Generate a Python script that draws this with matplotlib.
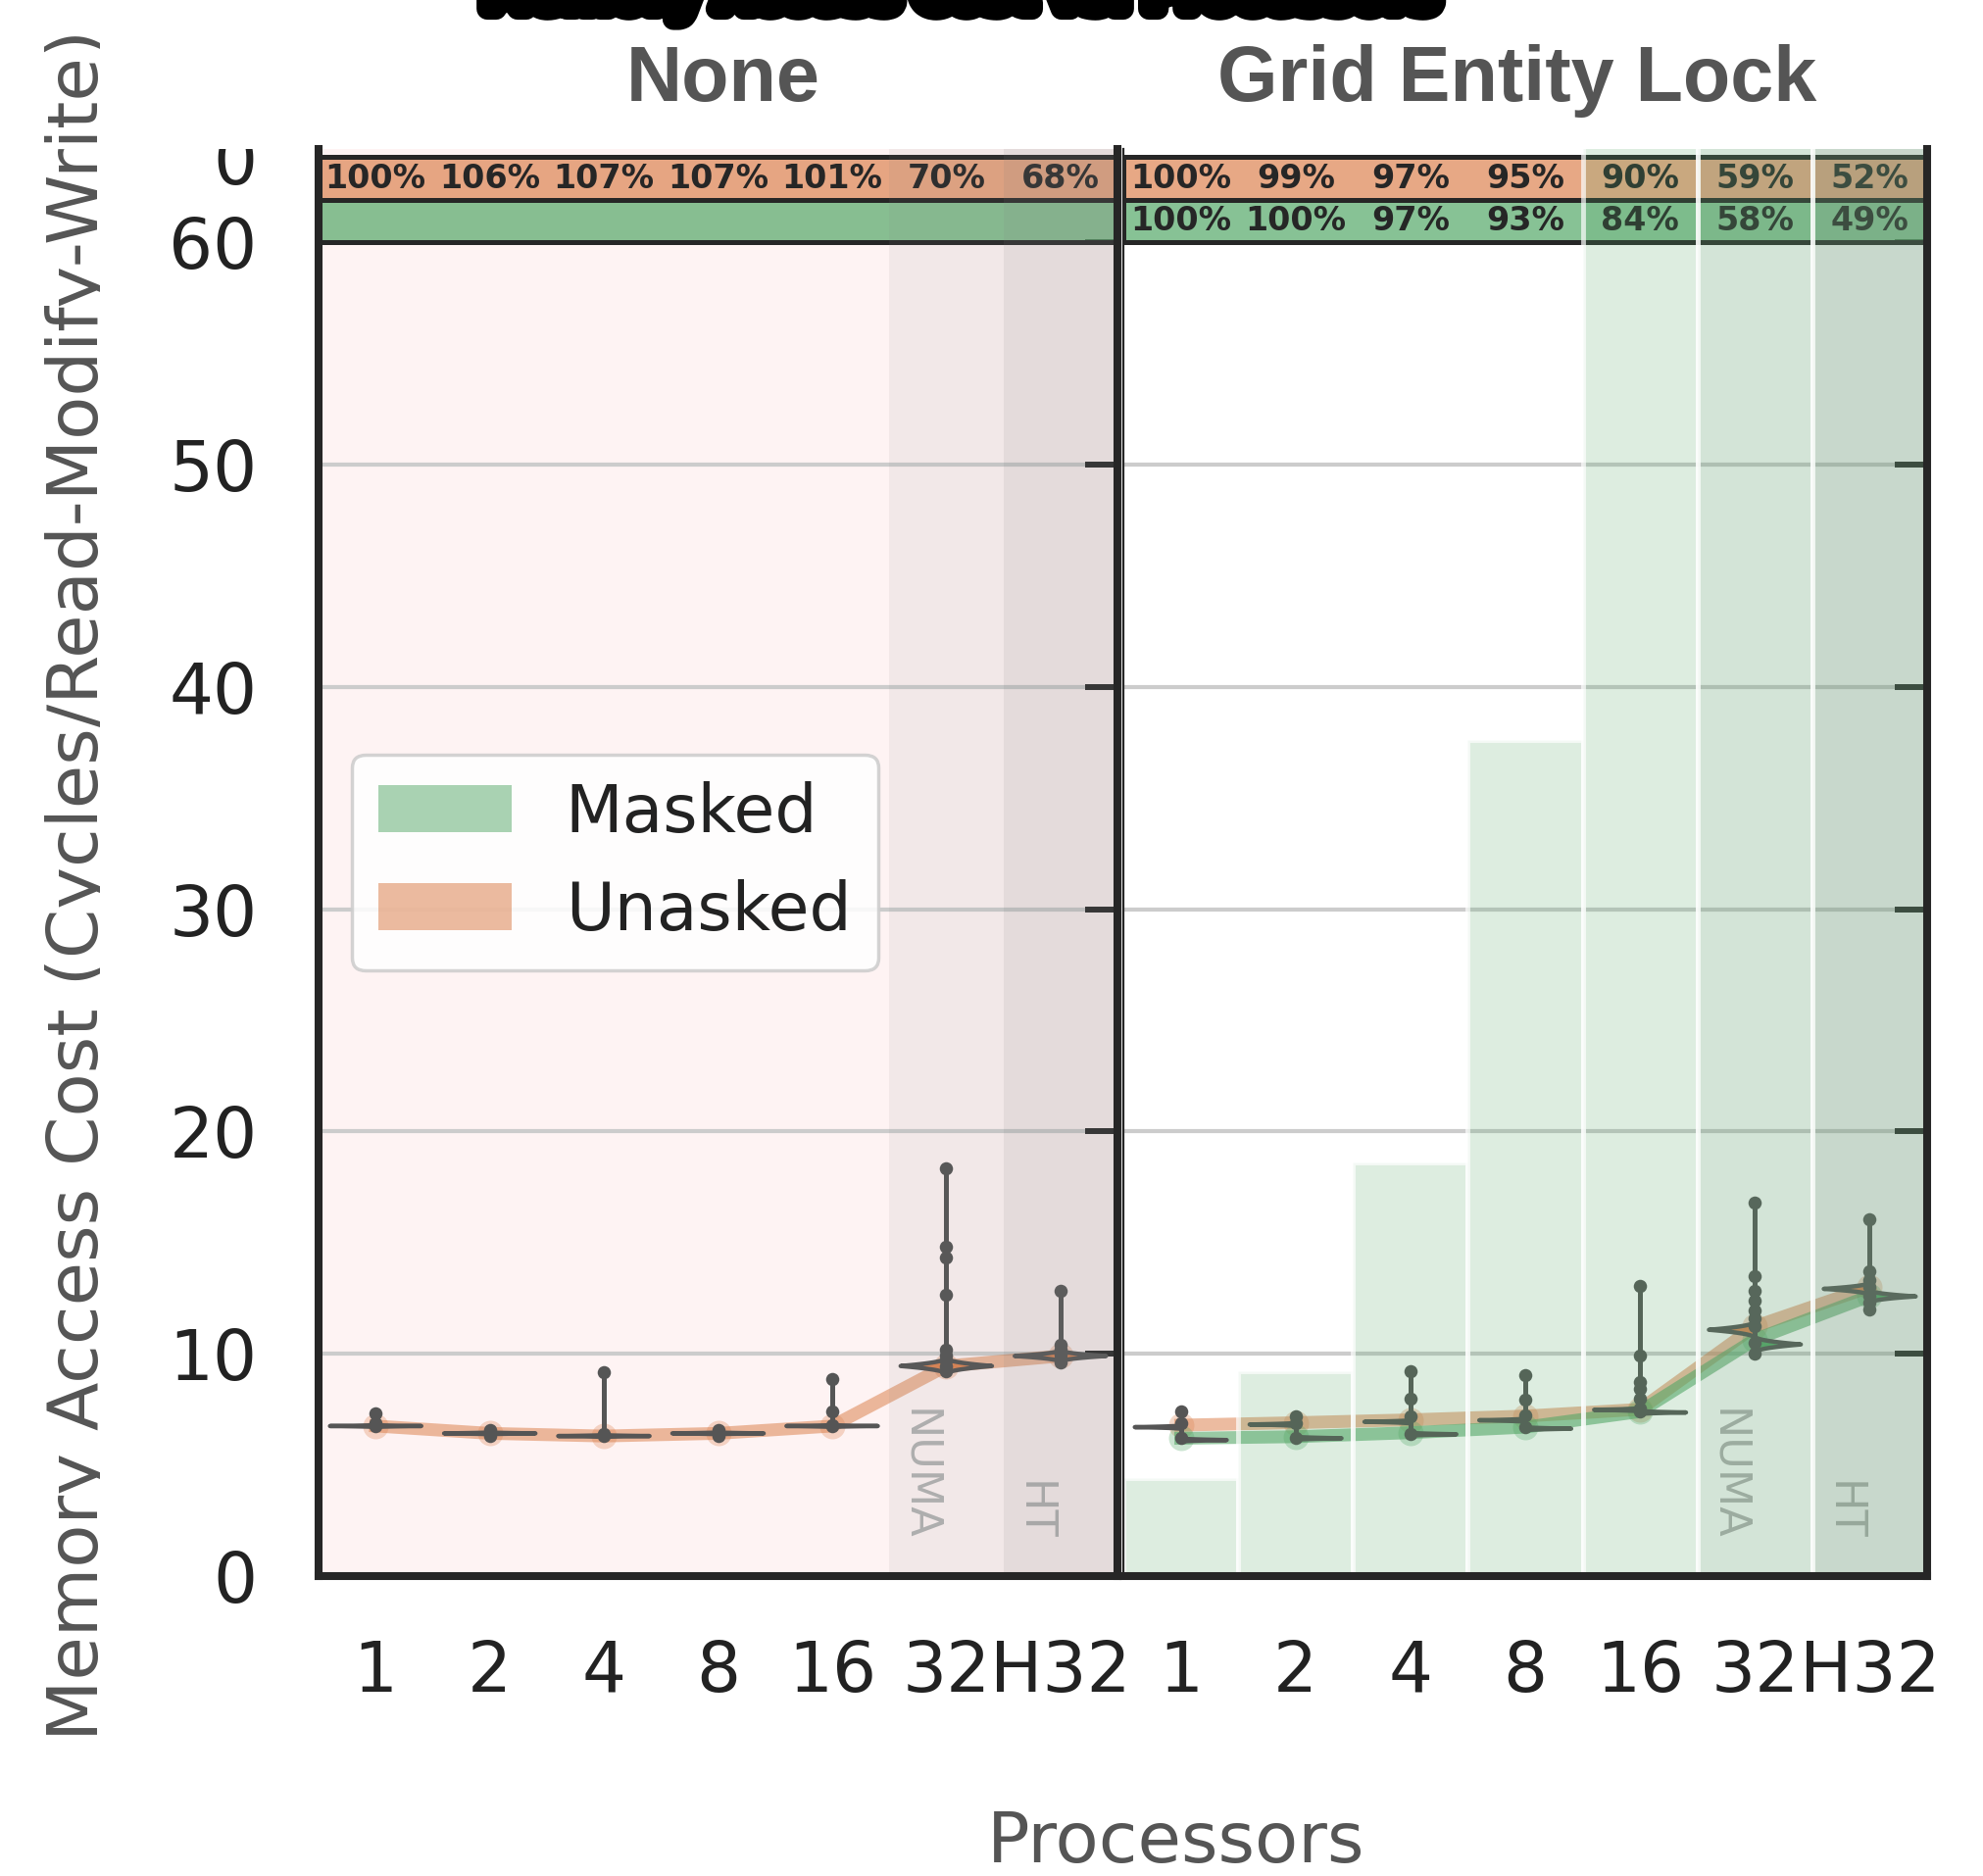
import numpy as np
import matplotlib
matplotlib.use("Agg")
import matplotlib.pyplot as plt
import matplotlib.patheffects as pe
from matplotlib.colors import to_rgb
from matplotlib.patches import Rectangle, Patch
from matplotlib.transforms import Bbox, TransformedBbox

# ---- data ----
cats = ["1", "2", "4", "8", "16", "32", "H32"]
yticks = [0, 10, 20, 30, 40, 50, 60]

# panel "None": only the unmasked run
none_unasked_line = [6.75, 6.42, 6.30, 6.42, 6.75, 9.45, 9.90]
none_unasked_mode = [6.75, 6.42, 6.30, 6.42, 6.75, 9.45, 9.90]
none_unasked_body = [0.05, 0.05, 0.05, 0.05, 0.05, 0.38, 0.28]
none_unasked_pts = [
    [6.75, 6.9, 7.33],
    [6.3, 6.42, 6.55],
    [6.3, 6.38, 9.17],
    [6.32, 6.42, 6.55],
    [6.75, 6.8, 7.4, 8.88],
    [9.2, 9.45, 9.7, 9.9, 10.2, 12.67, 14.32, 14.83, 18.36],
    [9.6, 9.8, 9.95, 10.2, 10.4, 12.85],
]
none_unasked_pct = [100, 106, 107, 107, 101, 70, 68]

# panel "Grid Entity Lock"
gel_unasked_line = [6.79, 6.90, 7.03, 7.20, 7.50, 11.23, 13.00]
gel_masked_line = [6.20, 6.27, 6.45, 6.70, 7.40, 10.64, 12.60]
gel_unasked_mode = [6.70, 6.82, 6.94, 7.01, 7.48, 11.08, 12.92]
gel_masked_mode = [6.12, 6.20, 6.38, 6.63, 7.36, 10.42, 12.58]
gel_unasked_body = [0.08, 0.08, 0.08, 0.08, 0.08, 0.38, 0.3]
gel_masked_body = [0.08, 0.08, 0.08, 0.08, 0.08, 0.38, 0.3]
gel_unasked_pts = [
    [6.9, 7.4],
    [6.9, 7.19],
    [7.2, 8.0, 9.2],
    [7.25, 7.93, 9.05],
    [7.55, 8.0, 8.4, 8.73, 9.94, 13.07],
    [11.23, 11.6, 11.96, 12.41, 12.85, 13.5, 16.81],
    [13.0, 13.3, 13.73, 16.04],
]
gel_masked_pts = [
    [6.2],
    [6.22],
    [6.4],
    [6.7],
    [7.4],
    [10.0, 10.5],
    [12.0, 12.3, 12.6],
]
gel_masked_bar = [4.4, 9.2, 18.6, 37.6, 75.0, 150.0, 150.0]
gel_unasked_pct = [100, 99, 97, 95, 90, 59, 52]
gel_masked_pct = [100, 100, 97, 93, 84, 58, 49]

# ---- style ----
ORANGE = "#dd8452"
GREEN = "#55a868"
EDGE = "#555555"
DARK = "#262626"
LABEL = "#555555"
plt.rcParams["font.family"] = ["DejaVu Sans"]

W, H = 2023, 1914
fig = plt.figure(figsize=(W / 100, H / 100), dpi=100)


def fx(px):
    return px / W


def fy(py):
    return 1 - py / H


ax1 = fig.add_axes([fx(325), fy(1608), fx(815), 1456 / H])
ax2 = fig.add_axes([fx(1146), fy(1608), fx(820), 1456 / H])
x = np.arange(len(cats))


def setup(ax, face, labelleft):
    ax.set_facecolor(face)
    ax.set_xlim(-0.5, 6.5)
    ax.set_ylim(0, 64.2)
    ax.set_axisbelow(True)
    ax.yaxis.grid(True, color="#cccccc", lw=3)
    ax.xaxis.grid(False)
    ax.set_yticks(yticks)
    ax.tick_params(axis="y", direction="in", length=24, width=4.3, color=DARK,
                   left=False, right=True, labelleft=labelleft, labelright=False,
                   pad=45, labelsize=51, labelcolor="#222222")
    ax.set_xticks(x, cats)
    ax.tick_params(axis="x", length=0, pad=46, labelsize=51, labelcolor="#222222")
    for s in ["left", "right", "bottom"]:
        ax.spines[s].set_linewidth(5.8)
        ax.spines[s].set_color(DARK)
        ax.spines[s].set_zorder(10)
    ax.spines["top"].set_visible(False)


def band(ax, y0, y1, color, pct):
    ax.add_patch(Rectangle((-0.5, y0), 7, y1 - y0, facecolor=(*to_rgb(color), 0.7),
                           edgecolor=DARK, lw=3.6, zorder=1))
    if pct is not None:
        for i, v in enumerate(pct):
            ax.text(i, (y0 + y1) / 2, f"{v}%", ha="center", va="center",
                    fontsize=24, fontweight="bold", color=DARK, zorder=1.5)


def trend(ax, vals, color, alpha):
    ax.plot(x, vals, color=color, alpha=alpha, lw=9.4, zorder=2,
            solid_joinstyle="round")
    ax.scatter(x, vals, s=350, color=color, alpha=0.3, lw=0, zorder=2)


def violin(ax, xc, mode, body, side, color, half=0.4):
    t = np.linspace(-1, 1, 61)
    ys = mode + t * body
    w = half * (1 - np.abs(t)) ** 2.2
    if side == "both":
        xs = np.concatenate([xc + w, (xc - w)[::-1]])
    elif side == "left":
        xs = np.concatenate([xc - w, np.full_like(w, xc)[::-1]])
    else:
        xs = np.concatenate([xc + w, np.full_like(w, xc)[::-1]])
    yy = np.concatenate([ys, ys[::-1]])
    ax.fill(xs, yy, facecolor=color, edgecolor=EDGE, lw=3.2, zorder=3,
            joinstyle="round")


def points(ax, xc, pts, base):
    ax.plot([xc, xc], [base, max(pts)], color=EDGE, lw=3.6, zorder=3.2,
            solid_capstyle="round")
    ax.scatter([xc] * len(pts), pts, s=95, color=EDGE, lw=0, zorder=3.5)


def shading(ax, label_color):
    ax.axvspan(4.5, 6.5, color="#808080", alpha=0.09, lw=0, zorder=4)
    ax.axvspan(5.5, 6.5, color="#808080", alpha=0.12, lw=0, zorder=4)
    ax.text(4.58, 1.6, "NUMA", rotation=270, ha="left", va="bottom",
            fontsize=32, color=label_color, zorder=3.8)
    ax.text(5.58, 1.6, "HT", rotation=270, ha="left", va="bottom",
            fontsize=32, color=label_color, zorder=3.8)


# ---- left panel: None ----
setup(ax1, "#fef3f3", True)
band(ax1, 61.9, 63.85, ORANGE, none_unasked_pct)
band(ax1, 60.0, 61.9, GREEN, None)
trend(ax1, none_unasked_line, ORANGE, 0.55)
for i in x:
    violin(ax1, i, none_unasked_mode[i], none_unasked_body[i], "both", ORANGE)
    points(ax1, i, none_unasked_pts[i], none_unasked_mode[i])
shading(ax1, "#b3b3b3")

# ---- right panel: Grid Entity Lock ----
setup(ax2, "white", False)
ax2.spines["left"].set_linewidth(1.6)
band(ax2, 61.9, 63.85, ORANGE, gel_unasked_pct)
band(ax2, 60.0, 61.9, GREEN, gel_masked_pct)
trend(ax2, gel_unasked_line, ORANGE, 0.55)
trend(ax2, gel_masked_line, GREEN, 0.6)
for i in x:
    violin(ax2, i, gel_unasked_mode[i], gel_unasked_body[i], "left", ORANGE)
    violin(ax2, i, gel_masked_mode[i], gel_masked_body[i], "right", GREEN)
    points(ax2, i, gel_unasked_pts[i] + gel_masked_pts[i], gel_masked_mode[i])
shading(ax2, "#b3b3b3")
ax2.bar(x, gel_masked_bar, width=1.0, color=(*to_rgb(GREEN), 0.2),
        edgecolor=(1, 1, 1, 0.7), lw=3.5, zorder=4.5)

# ---- legend ----
handles = [Patch(facecolor=GREEN, alpha=0.5, lw=0, label="Masked"),
           Patch(facecolor=ORANGE, alpha=0.55, lw=0, label="Unasked")]
leg = ax1.legend(handles=handles, loc="center left", fontsize=49,
                 frameon=True, fancybox=True, framealpha=0.85,
                 edgecolor="#cccccc")
leg.get_frame().set_linewidth(2.5)
leg.set_zorder(12)
for t in leg.get_texts():
    t.set_color("#222222")

# ---- titles and labels ----
for cx, name in [(738, "None"), (1548, "Grid Entity Lock")]:
    fig.text(fx(cx), fy(82), name, ha="center", va="center", fontsize=57,
             fontweight="bold", color=LABEL, family="Liberation Sans")

yl = fig.text(fx(100), fy(903), "Memory Access Cost (Cycles/Read-Modify-Write)",
              rotation=90, rotation_mode="anchor", ha="center", va="baseline",
              fontsize=52, color=LABEL)
yl.set_clip_box(TransformedBbox(Bbox([[0, 0], [fx(102), 1]]), fig.transFigure))

fig.text(fx(1200), fy(1900), "Processors", ha="center", va="baseline",
         fontsize=52, color=LABEL)

top0 = fig.text(fx(262), fy(161), "0", ha="right", va="center_baseline",
                fontsize=51, color="#222222")
top0.set_clip_box(TransformedBbox(Bbox([[0, 0], [1, fy(152)]]), fig.transFigure))

# suptitle sitting above the canvas, only its lower edge shows
sup = fig.text(fx(980), fy(9), "Memory Access Cost vs. Processors",
               ha="center", va="baseline", fontsize=60, fontweight="bold",
               color="black",
               path_effects=[pe.withStroke(linewidth=16, foreground="black")])
r = fig.canvas.get_renderer()
wpx = sup.get_window_extent(r).width
sup.set_fontsize(60 * 975 / wpx)

fig.savefig("out.png", dpi=100)
